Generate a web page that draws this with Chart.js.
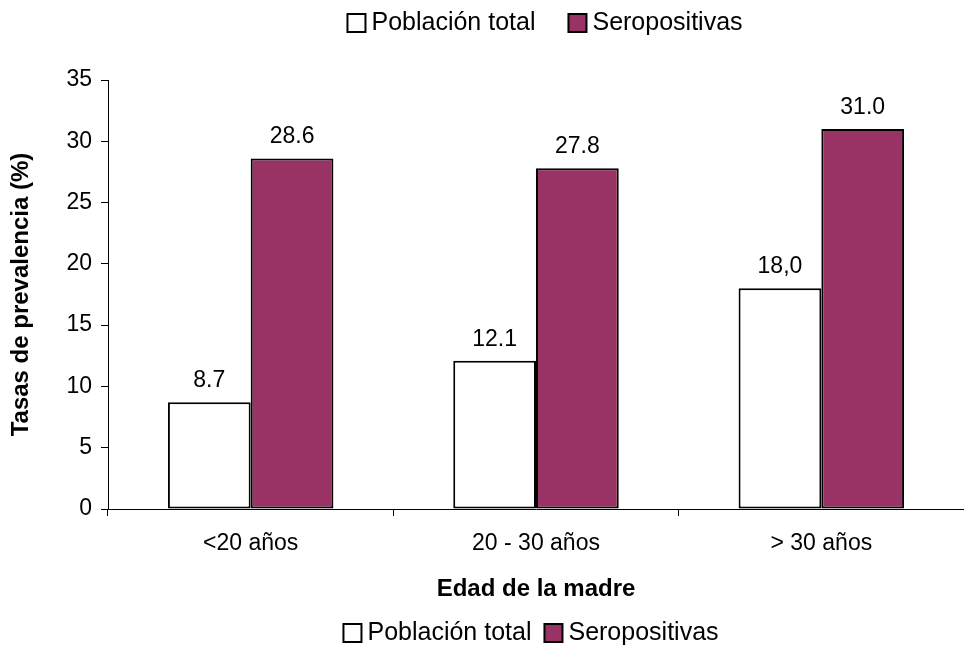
<!DOCTYPE html>
<html>
<head>
<meta charset="utf-8">
<script src="https://cdn.jsdelivr.net/npm/chart.js@4/dist/chart.umd.min.js"></script>
<style>
  html, body { margin: 0; padding: 0; background: #fff; }
</style>
</head>
<body>
<canvas id="prevalencia" width="964" height="648"></canvas>
<script>
var categories = ['<20 años', '20 - 30 años', '> 30 años'];
var seriesNames = ['Población total', 'Seropositivas'];
var poblacionTotal = [8.7, 12.1, 18.0];
var seropositivas = [28.6, 27.8, 31.0];
var poblacionLabels = ['8.7', '12.1', '18,0'];
var seropositivasLabels = ['28.6', '27.8', '31.0'];
var yMin = 0, yMax = 35, yStep = 5;

var FONT = "'Liberation Sans', Arial, sans-serif";
var MAROON = '#993366';

// legend drawn twice (above and below), like the original
function drawLegend(ctx, datasets, centerX, centerY, itemGap) {
	var box = 18, textGap = 6;
	ctx.save();
	ctx.font = '25px ' + FONT;
	var widths = datasets.map(function(ds) { return box + textGap + ctx.measureText(ds.label).width; });
	var total = widths.reduce(function(a, b) { return a + b; }, 0) + itemGap * (datasets.length - 1);
	var x = centerX - total / 2;
	datasets.forEach(function(ds, i) {
		ctx.fillStyle = ds.backgroundColor;
		ctx.fillRect(x, centerY - box / 2, box, box);
		ctx.lineWidth = 2;
		ctx.strokeStyle = '#000';
		ctx.strokeRect(x, centerY - box / 2, box, box);
		ctx.fillStyle = '#000';
		ctx.textBaseline = 'middle';
		ctx.textAlign = 'left';
		ctx.fillText(ds.label, x + box + textGap, centerY);
		x += widths[i] + itemGap;
	});
	ctx.restore();
}

var extras = {
	id: 'extras',
	afterDatasetsDraw: function(chart) {
		var ctx = chart.ctx;
		var texts = [poblacionLabels, seropositivasLabels];
		ctx.save();
		ctx.font = '23px ' + FONT;
		ctx.fillStyle = '#000';
		ctx.textAlign = 'center';
		ctx.textBaseline = 'alphabetic';
		chart.data.datasets.forEach(function(ds, i) {
			chart.getDatasetMeta(i).data.forEach(function(bar, j) {
				ctx.fillText(texts[i][j], bar.x, bar.y - 15);
			});
		});
		ctx.restore();
	},
	afterDraw: function(chart) {
		var ds = chart.data.datasets;
		drawLegend(chart.ctx, ds, 545, 23, 33);
		drawLegend(chart.ctx, ds, 531, 633, 13);
	}
};

var ctx = document.getElementById('prevalencia').getContext('2d');
var chart = new Chart(ctx, {
	type: 'bar',
	data: {
		labels: categories,
		datasets: [{
			label: seriesNames[0],
			data: poblacionTotal,
			backgroundColor: '#ffffff',
			borderColor: '#000000',
			borderWidth: 2,
			borderSkipped: false
		}, {
			label: seriesNames[1],
			data: seropositivas,
			backgroundColor: MAROON,
			borderColor: '#000000',
			borderWidth: 2,
			borderSkipped: false
		}]
	},
	options: {
		responsive: false,
		animation: false,
		devicePixelRatio: 1,
		layout: { padding: { top: 80, left: 0, right: 0, bottom: 0 } },
		datasets: {
			bar: { categoryPercentage: 0.58, barPercentage: 1.0 }
		},
		plugins: {
			legend: { display: false },
			tooltip: { enabled: false }
		},
		scales: {
			x: {
				grid: { display: true, drawOnChartArea: false, drawTicks: true, tickLength: 7, color: '#000' },
				border: { display: true, color: '#000', width: 1 },
				ticks: { color: '#000', padding: 14, font: { family: FONT, size: 23 } },
				title: {
					display: true,
					text: 'Edad de la madre',
					color: '#000',
					font: { family: FONT, size: 24, weight: 'bold' },
					padding: { top: 0, bottom: 44 }
				},
				afterFit: function(scale) { scale.height = 139; }
			},
			y: {
				min: yMin,
				max: yMax,
				grid: { display: true, drawOnChartArea: false, drawTicks: true, tickLength: 7, color: '#000' },
				border: { display: true, color: '#000', width: 1 },
				ticks: { stepSize: yStep, color: '#000', padding: 9, font: { family: FONT, size: 23 } },
				title: {
					display: true,
					text: 'Tasas de prevalencia (%)',
					color: '#000',
					font: { family: FONT, size: 24, weight: 'bold' },
					padding: { top: 7, bottom: 0 }
				},
				afterFit: function(scale) { scale.width = 108; }
			}
		}
	},
	plugins: [extras]
});
</script>
</body>
</html>
